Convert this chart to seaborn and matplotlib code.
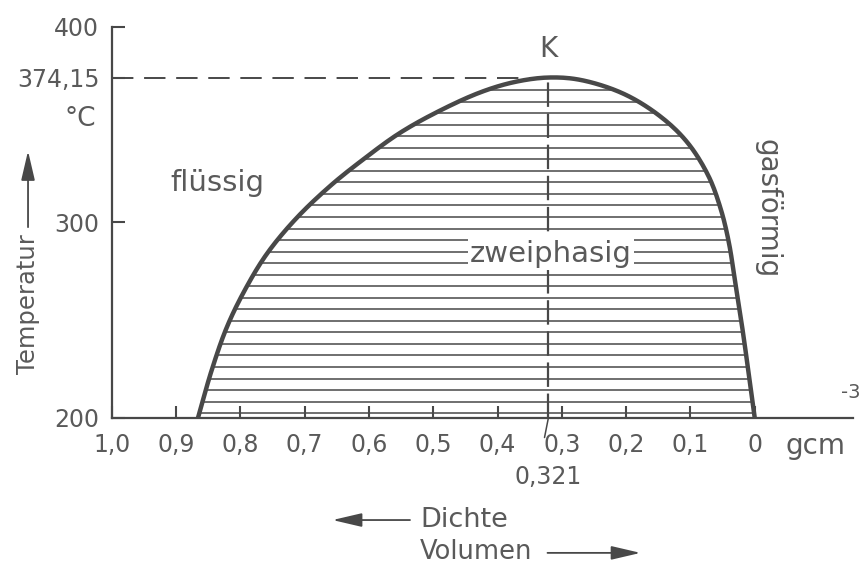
import numpy as np
import pandas as pd
import matplotlib.pyplot as plt
import seaborn as sns

# saturation curve of water, density in g/cm3, T in degC
T_liq = [200, 224.6, 246.5, 265.5, 283.9, 301.8, 318.5, 332.0, 345.8, 357.5, 366.8, 371.9, 374.15]
d_liq = [0.866, 0.8445, 0.821, 0.793, 0.759, 0.714, 0.661, 0.610, 0.552, 0.488, 0.425, 0.373, 0.321]
T_gas = [374.15, 372.9, 365.7, 353.8, 340.7, 323.8, 306.9, 290.0, 267.5, 245.5, 225.1, 200]
d_gas = [0.321, 0.2706, 0.2031, 0.1451, 0.1042, 0.0720, 0.0529, 0.0404, 0.0295, 0.0191, 0.0104, 0.0]

crit_T = 374.15
crit_d = 0.321

x_ticks = [1.0, 0.9, 0.8, 0.7, 0.6, 0.5, 0.4, 0.3, 0.2, 0.1, 0.0]
x_labels = ['1,0', '0,9', '0,8', '0,7', '0,6', '0,5', '0,4', '0,3', '0,2', '0,1', '0']
y_ticks = [200, 300, 374.15, 400]
y_labels = ['200', '300', '374,15', '400']

grey = '#5a5a5a'
dark = '#484848'


def smooth(x, y, sx=643.0, sy=1.955, n=16):
    # centripetal catmull-rom through the read points, done in pixel-like units
    P = np.column_stack([np.asarray(x) * sx, np.asarray(y) * sy])
    P = np.vstack([2 * P[0] - P[1], P, 2 * P[-1] - P[-2]])
    out = []
    for i in range(1, len(P) - 2):
        p0, p1, p2, p3 = P[i - 1], P[i], P[i + 1], P[i + 2]
        t0 = 0.0
        t1 = t0 + np.linalg.norm(p1 - p0) ** 0.5
        t2 = t1 + np.linalg.norm(p2 - p1) ** 0.5
        t3 = t2 + np.linalg.norm(p3 - p2) ** 0.5
        t = np.linspace(t1, t2, n)[:, None]
        a1 = (t1 - t) / (t1 - t0) * p0 + (t - t0) / (t1 - t0) * p1
        a2 = (t2 - t) / (t2 - t1) * p1 + (t - t1) / (t2 - t1) * p2
        a3 = (t3 - t) / (t3 - t2) * p2 + (t - t2) / (t3 - t2) * p3
        b1 = (t2 - t) / (t2 - t0) * a1 + (t - t0) / (t2 - t0) * a2
        b2 = (t3 - t) / (t3 - t1) * a2 + (t - t1) / (t3 - t1) * a3
        c = (t2 - t) / (t2 - t1) * b1 + (t - t1) / (t2 - t1) * b2
        out.append(c if i == 1 else c[1:])
    c = np.vstack(out)
    return c[:, 0] / sx, c[:, 1] / sy


sns.set_theme(style='ticks')
plt.rcParams['font.family'] = ['DejaVu Sans']
plt.rcParams['text.color'] = grey

cx, cy = smooth(d_liq + d_gas[1:], T_liq + T_gas[1:])
df = pd.DataFrame({'Dichte': cx, 'Temperatur': cy})

fig = plt.figure(figsize=(8.6, 5.66), dpi=100)
ax = fig.add_axes([0.130, 0.2615, 0.862, 0.6908])

# hatching of the two-phase region, ends taken from the drawn curve
top = int(np.argmax(cy))
levels = np.arange(202.5, 373, 5.9)
left = np.interp(levels, cy[:top + 1], cx[:top + 1])
right = np.interp(levels, cy[top:][::-1], cx[top:][::-1])
ax.hlines(levels, right, left, color=dark, lw=1.1, zorder=1)

# critical isochore and isotherm
ax.plot([crit_d, crit_d], [200, crit_T], color=dark, lw=1.6,
        dashes=(11, 3), zorder=2)
ax.plot([1.0, crit_d], [crit_T, crit_T], color=dark, lw=1.4,
        dashes=(11, 5.5), zorder=2)

sns.lineplot(data=df, x='Dichte', y='Temperatur', sort=False, estimator=None,
             color=dark, lw=3.2, ax=ax, zorder=3)

ax.set_xlim(1.0, -0.153)
ax.set_ylim(200, 400)
ax.set_xlabel('')
ax.set_ylabel('')

ax.set_xticks(x_ticks)
ax.set_xticklabels(x_labels, fontsize=17)
ax.set_yticks(y_ticks)
ax.set_yticklabels(y_labels, fontsize=17)
ax.set_xticks([crit_d], minor=True)
ax.set_xticklabels(['0,321'], minor=True, fontsize=17)
ax.tick_params(axis='both', which='major', direction='in', length=9, width=1.5,
               color=dark, labelcolor=grey)
ax.tick_params(axis='x', which='major', pad=11)
ax.tick_params(axis='y', which='major', pad=9)
ax.tick_params(axis='x', which='minor', length=0, pad=34, labelcolor=grey)

sns.despine(ax=ax)
for s in ['left', 'bottom']:
    ax.spines[s].set_color(dark)
    ax.spines[s].set_linewidth(1.6)

# small leader from axis to 0,321
ax.plot([crit_d, crit_d + 0.006], [200, 190], color=dark, lw=1.1, clip_on=False)

# texts
ax.text(crit_d, 389, 'K', ha='center', va='center', fontsize=20)
ax.text(0.836, 320, 'flüssig', ha='center', va='center', fontsize=21)
ax.text(0.317, 284, 'zweiphasig', ha='center', va='center', fontsize=21,
        bbox=dict(facecolor='white', edgecolor='none', pad=1.5), zorder=4)
ax.text(-0.02, 307, 'gasförmig', ha='center', va='center', fontsize=20,
        rotation=270)
ax.text(-0.043, 353, '°C', transform=ax.get_yaxis_transform(),
        ha='center', va='center', fontsize=19)
ax.text(-0.095, 193, 'gcm', ha='center', va='top', fontsize=20)
ax.text(-0.149, 213, '-3', ha='center', va='center', fontsize=14)

# axis captions with arrows
arrow = dict(arrowstyle='-|>,head_length=1.5,head_width=0.35', color=dark, lw=1.3)
ax.text(-0.113, 0.2916, 'Temperatur', transform=ax.transAxes, rotation=90,
        ha='center', va='center', fontsize=17.5)
ax.annotate('', xy=(-0.113, 0.69), xytext=(-0.113, 0.481),
            xycoords='axes fraction', textcoords='axes fraction',
            arrowprops=arrow, annotation_clip=False)
ax.text(0.4156, -0.261, 'Dichte', transform=ax.transAxes,
        ha='left', va='center', fontsize=19.5)
ax.annotate('', xy=(0.294, -0.261), xytext=(0.406, -0.261),
            xycoords='axes fraction', textcoords='axes fraction',
            arrowprops=arrow, annotation_clip=False)
ax.text(0.4156, -0.3606, 'Volumen', transform=ax.transAxes,
        ha='left', va='baseline', fontsize=18.5)
ax.annotate('', xy=(0.717, -0.345), xytext=(0.584, -0.345),
            xycoords='axes fraction', textcoords='axes fraction',
            arrowprops=arrow, annotation_clip=False)

fig.savefig('out.png', dpi=100)
